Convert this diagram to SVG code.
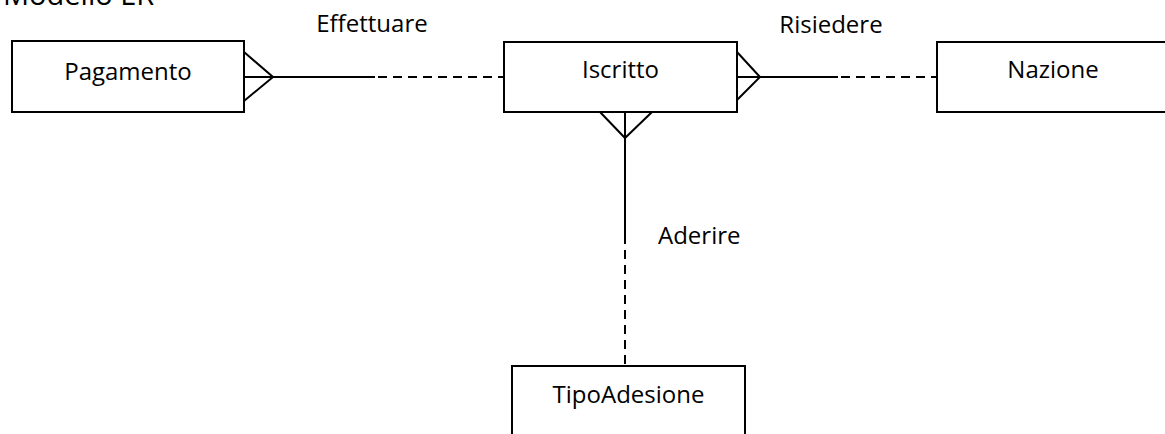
<svg xmlns="http://www.w3.org/2000/svg" width="1165" height="434" viewBox="0 0 1165 434">
<style>
.box{fill:#fff;stroke:#000;stroke-width:2}
.t{font-family:"Open Sans","Noto Sans",sans-serif;font-size:24px;fill:#000}
.c{text-anchor:middle}
.ln{stroke:#000;stroke-width:2;fill:none}
.dash{stroke-dasharray:9 6}
</style>
<rect width="1165" height="434" fill="#fff"/>
<text class="t" x="3" y="5" style="font-size:29px">Modello ER</text>
<g id="connectors">
  <g id="effettuare">
    <polyline class="ln" points="244,52 273,77 244,101"/>
    <line class="ln" x1="244" y1="77" x2="375" y2="77"/>
    <line class="ln dash" x1="378" y1="77" x2="504" y2="77"/>
    <text class="t c" x="372" y="32">Effettuare</text>
  </g>
  <g id="risiedere">
    <polyline class="ln" points="737,52 760,77 737,100"/>
    <line class="ln" x1="737" y1="77" x2="838" y2="77"/>
    <line class="ln dash" x1="841" y1="77" x2="937" y2="77"/>
    <text class="t c" x="831" y="33">Risiedere</text>
  </g>
  <g id="aderire">
    <polyline class="ln" points="600,112 625,138 652,112"/>
    <line class="ln" x1="625" y1="112" x2="625" y2="244"/>
    <line class="ln dash" x1="625" y1="250" x2="625" y2="366"/>
    <text class="t" x="658" y="244">Aderire</text>
  </g>
</g>
<g id="pagamento">
  <rect class="box" x="12" y="41" width="232" height="71"/>
  <text class="t c" x="128" y="80">Pagamento</text>
</g>
<g id="iscritto">
  <rect class="box" x="504" y="42" width="233" height="70"/>
  <text class="t c" x="620.5" y="78">Iscritto</text>
</g>
<g id="nazione">
  <rect class="box" x="937" y="42" width="232" height="70"/>
  <text class="t c" x="1053" y="78">Nazione</text>
</g>
<g id="tipoadesione">
  <rect class="box" x="512" y="366" width="233" height="80"/>
  <text class="t c" x="628.5" y="403">TipoAdesione</text>
</g>
</svg>
